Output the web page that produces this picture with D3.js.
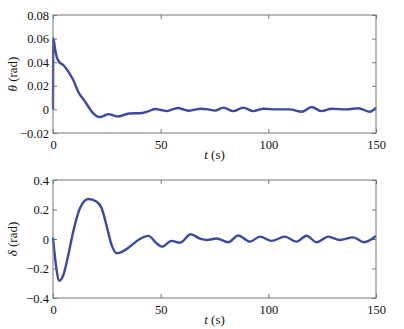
<!DOCTYPE html>
<html>
<head>
<meta charset="utf-8">
<script src="https://cdn.jsdelivr.net/npm/d3@7"></script>
<style>
  body { margin: 0; background: #fff; }
  svg { display: block; font-family: "Liberation Serif", "DejaVu Serif", serif; }
</style>
</head>
<body>
<div id="chart"></div>
<script>
// time axis ticks
const tTicks = [0, 50, 100, 150];

// theta (rad), upper panel
const thetaT = [0, 0.15, 0.9, 1.7, 2.8, 4.8, 7.1, 9.4, 11.7, 14.9, 18.7, 21.5, 23.5, 25.7, 28, 30.3, 35.3, 41.5, 44.5, 47.4, 50.2, 52.8, 55.5, 58.1, 60.5, 63, 65.8, 68.5, 72, 75.2, 79.1, 83.7, 88.4, 93, 97.7, 103.9, 110, 115.5, 120.1, 124.8, 129.4, 136.4, 141.8, 147.2, 150];
const thetaV = [0, 0.0603, 0.0518, 0.0447, 0.0404, 0.0376, 0.032, 0.0249, 0.015, 0.0066, -0.0033, -0.0065, -0.0055, -0.004, -0.005, -0.006, -0.0035, -0.003, -0.0015, 0.0003, -0.0005, -0.0014, 0, 0.0012, 0, -0.0012, -0.0002, 0.0005, 0, -0.001, 0.0015, -0.0015, 0.0015, -0.0015, 0.0005, 0, 0, -0.002, 0.002, -0.0015, 0.0005, 0, 0.001, -0.002, 0.0015];
const thetaTicks = [-0.02, 0, 0.02, 0.04, 0.06, 0.08];
const thetaTickLabels = ["\u22120.02", "0", "0.02", "0.04", "0.06", "0.08"];

// delta (rad), lower panel
const deltaT = [0, 1.4, 2.9, 4.8, 7.1, 9.4, 12.5, 16.4, 20.3, 22.6, 24.8, 27.2, 29.6, 31.1, 35, 39.6, 44.3, 48.1, 50.5, 55.1, 59, 64, 68.3, 71.4, 76, 81.4, 86, 91.5, 96.1, 101.5, 107.7, 113.1, 117.8, 122.4, 127.8, 133.3, 139.4, 144.4, 150];
const deltaV = [0.01, -0.18, -0.283, -0.244, -0.108, 0.05, 0.208, 0.271, 0.253, 0.208, 0.095, -0.04, -0.097, -0.093, -0.06, -0.007, 0.021, -0.029, -0.052, -0.013, -0.025, 0.032, 0.002, -0.007, 0.003, -0.022, 0.024, -0.018, 0.016, -0.013, 0.016, -0.018, 0.022, -0.022, 0.016, -0.007, 0.011, -0.022, 0.02];
const deltaTicks = [-0.4, -0.2, 0, 0.2, 0.4];
const deltaTickLabels = ["\u22120.4", "\u22120.2", "0", "0.2", "0.4"];

const W = 404, H = 329;
const lineColor = "#3a4aa2";
const axisColor = "#777";
const serif = "'Liberation Serif', 'DejaVu Serif', serif";

const svg = d3.select("#chart").append("svg")
  .attr("width", W)
  .attr("height", H);

const drawPanel = (opts) => {
  const { top, bottom, ts, vs, yDomain, yTicks, yLabels, symbol } = opts;
  const left = 53, right = 376;

  const x = d3.scaleLinear().domain([0, 150]).range([left, right]);
  const y = d3.scaleLinear().domain(yDomain).range([bottom, top]);
  const g = svg.append("g");

  const fmt = (d) => yLabels[yTicks.indexOf(d)];

  // inward ticks on all four sides
  const xb = g.append("g").attr("transform", `translate(0,${bottom})`)
    .call(d3.axisBottom(x).tickValues(tTicks).tickSize(-4).tickPadding(7).tickFormat(d3.format("d")));
  const xt = g.append("g").attr("transform", `translate(0,${top})`)
    .call(d3.axisTop(x).tickValues(tTicks).tickSize(-4).tickFormat(""));
  const yl = g.append("g").attr("transform", `translate(${left},0)`)
    .call(d3.axisLeft(y).tickValues(yTicks).tickSize(-4).tickPadding(4).tickFormat(fmt));
  const yr = g.append("g").attr("transform", `translate(${right},0)`)
    .call(d3.axisRight(y).tickValues(yTicks).tickSize(-4).tickFormat(""));

  [xb, xt, yl, yr].forEach(a => {
    a.select(".domain").remove();
    a.selectAll("line").attr("stroke", axisColor);
    a.selectAll("text").attr("fill", "#111")
      .attr("font-size", 12.5)
      .attr("font-family", serif);
  });

  // data line
  const line = d3.line()
    .x(d => x(d[0]))
    .y(d => y(d[1]))
    .curve(d3.curveMonotoneX);

  g.append("path")
    .datum(ts.map((t, i) => [t, vs[i]]))
    .attr("fill", "none")
    .attr("stroke", lineColor)
    .attr("stroke-width", 2.4)
    .attr("stroke-linejoin", "round")
    .attr("d", line);

  // frame
  g.append("rect")
    .attr("x", left).attr("y", top)
    .attr("width", right - left).attr("height", bottom - top)
    .attr("fill", "none")
    .attr("stroke", axisColor)
    .attr("stroke-width", 1);

  // x label
  const xl = g.append("text")
    .attr("x", (left + right) / 2)
    .attr("y", bottom + 26)
    .attr("text-anchor", "middle")
    .attr("font-size", 13)
    .attr("font-family", serif)
    .attr("fill", "#111");
  xl.append("tspan").style("font-style", "italic").text("t");
  xl.append("tspan").text(" (s)");

  // y label
  const ylab = g.append("text")
    .attr("transform", `translate(17,${(top + bottom) / 2}) rotate(-90)`)
    .attr("text-anchor", "middle")
    .attr("font-size", 13)
    .attr("font-family", serif)
    .attr("fill", "#111");
  ylab.append("tspan").style("font-style", "italic").text(symbol);
  ylab.append("tspan").text(" (rad)");
};

drawPanel({
  top: 15, bottom: 133,
  ts: thetaT, vs: thetaV,
  yDomain: [-0.02, 0.08],
  yTicks: thetaTicks, yLabels: thetaTickLabels,
  symbol: "\u03b8"
});

drawPanel({
  top: 180, bottom: 298,
  ts: deltaT, vs: deltaV,
  yDomain: [-0.4, 0.4],
  yTicks: deltaTicks, yLabels: deltaTickLabels,
  symbol: "\u03b4"
});
</script>
</body>
</html>
